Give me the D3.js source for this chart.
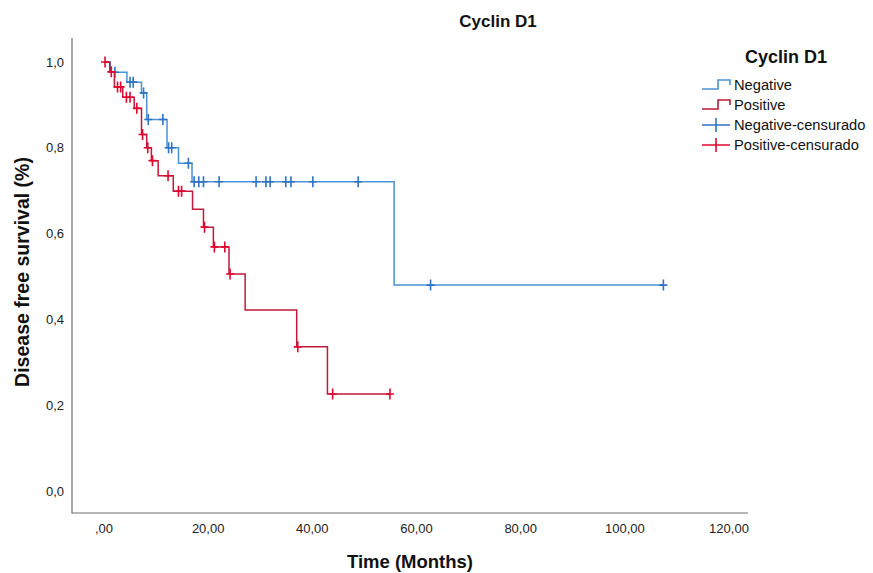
<!DOCTYPE html>
<html>
<head>
<meta charset="utf-8">
<script src="https://cdn.jsdelivr.net/npm/d3@7"></script>
<style>
  body { margin: 0; background: #fff; }
  svg { font-family: Arial, "Liberation Sans", sans-serif; }
</style>
</head>
<body>
<svg id="chart" width="873" height="573"></svg>
<script>
// Kaplan-Meier steps: [months, survival]
const negativeSteps = [[0, 1.0], [1.2, 0.976], [4.4, 0.953], [7.2, 0.928], [8.2, 0.866], [12.1, 0.800],
  [14.3, 0.764], [16.9, 0.721], [55.7, 0.480]];
const negativeEnd = 107.4;
const negativeCensored = [2.1, 5.0, 5.6, 7.6, 8.5, 11.3, 12.4, 13.0, 16.2, 17.3, 18.2, 19.1, 22.1,
  29.2, 31.1, 31.9, 34.9, 35.9, 40.1, 48.8, 62.7, 107.4];

const positiveSteps = [[0, 1.0], [1.1, 0.977], [2.0, 0.942], [3.6, 0.918], [5.8, 0.892], [7.2, 0.831],
  [8.2, 0.800], [9.1, 0.770], [10.4, 0.735], [13.3, 0.699], [17.0, 0.657], [19.1, 0.615],
  [21.0, 0.569], [24.0, 0.506], [27.1, 0.422], [37.0, 0.336], [42.9, 0.226]];
const positiveEnd = 54.9;
const positiveCensored = [0.2, 1.4, 2.6, 3.2, 4.3, 5.0, 6.3, 7.4, 8.4, 9.3, 12.3, 14.3, 14.9,
  19.3, 21.2, 23.2, 24.2, 37.2, 43.9, 54.9];

const xTicks = [0, 20, 40, 60, 80, 100, 120];
const xTickLabels = [',00', '20,00', '40,00', '60,00', '80,00', '100,00', '120,00'];
const yTicks = [0, 0.2, 0.4, 0.6, 0.8, 1.0];
const yTickLabels = ['0,0', '0,2', '0,4', '0,6', '0,8', '1,0'];
const legendLabels = ['Negative', 'Positive', 'Negative-censurado', 'Positive-censurado'];

const svg = d3.select('#chart');

const x = d3.scaleLinear().domain([0, 120]).range([104, 729]);
const y = d3.scaleLinear().domain([0, 1]).range([491, 62]);

const frameLeft = 72;
const frameRight = 748;
const frameTop = 38;
const frameBottom = 513;

// frame: left + bottom only
svg.append('path')
  .attr('d', `M${frameLeft},${frameTop}V${frameBottom}H${frameRight}`)
  .attr('fill', 'none')
  .attr('stroke', '#6e6e6e')
  .attr('stroke-width', 1.2);

svg.append('g')
  .selectAll('text')
  .data(xTicks)
  .enter()
  .append('text')
  .attr('x', (d) => x(d))
  .attr('y', 533)
  .attr('text-anchor', 'middle')
  .attr('font-size', 13)
  .attr('fill', '#222')
  .text((d, i) => xTickLabels[i]);

svg.append('g')
  .selectAll('text')
  .data(yTicks)
  .enter()
  .append('text')
  .attr('x', 64)
  .attr('y', (d) => y(d) + 4.5)
  .attr('text-anchor', 'end')
  .attr('font-size', 13)
  .attr('fill', '#222')
  .text((d, i) => yTickLabels[i]);

svg.append('text')
  .attr('x', 410)
  .attr('y', 568)
  .attr('text-anchor', 'middle')
  .attr('font-size', 18.5)
  .attr('font-weight', 'bold')
  .attr('fill', '#111')
  .text('Time (Months)');

svg.append('text')
  .attr('transform', 'translate(29,272) rotate(-90)')
  .attr('text-anchor', 'middle')
  .attr('font-size', 19.5)
  .attr('font-weight', 'bold')
  .attr('fill', '#111')
  .text('Disease free survival (%)');

svg.append('text')
  .attr('x', 498)
  .attr('y', 27)
  .attr('text-anchor', 'middle')
  .attr('font-size', 17)
  .attr('font-weight', 'bold')
  .attr('fill', '#111')
  .text('Cyclin D1');

const line = d3.line()
  .x((d) => x(d[0]))
  .y((d) => y(d[1]))
  .curve(d3.curveStepAfter);

const survivalAt = (steps, t) => {
  let s = steps[0][1];
  steps.forEach((p) => { if (p[0] <= t) s = p[1]; });
  return s;
};

const groups = [
  { steps: negativeSteps, end: negativeEnd, censored: negativeCensored, lineColor: '#4a93d8', markColor: '#2f73c2' },
  { steps: positiveSteps, end: positiveEnd, censored: positiveCensored, lineColor: '#bf1a3a', markColor: '#e3062e' }
];

groups.forEach((g) => {
  const pts = g.steps.concat([[g.end, g.steps[g.steps.length - 1][1]]]);
  svg.append('path')
    .datum(pts)
    .attr('d', line)
    .attr('fill', 'none')
    .attr('stroke', g.lineColor)
    .attr('stroke-width', 1.5);

  svg.append('g')
    .selectAll('path')
    .data(g.censored)
    .enter()
    .append('path')
    .attr('d', (t) => {
      const cx = x(t);
      const cy = y(survivalAt(g.steps, t));
      return `M${cx},${cy - 5.5}V${cy + 5.5}M${cx - 4},${cy}H${cx + 4}`;
    })
    .attr('fill', 'none')
    .attr('stroke', g.markColor)
    .attr('stroke-width', 1.6);
});

// legend
const legend = svg.append('g');
legend.append('text')
  .attr('x', 786)
  .attr('y', 63)
  .attr('text-anchor', 'middle')
  .attr('font-size', 18)
  .attr('font-weight', 'bold')
  .attr('fill', '#111')
  .text('Cyclin D1');

const legendRowY = [85, 105, 125, 145];
const legendColors = ['#4a93d8', '#bf1a3a', '#2f73c2', '#e3062e'];

legendLabels.forEach((label, i) => {
  const ly = legendRowY[i];
  const sample = i < 2
    ? `M702,${ly + 4}H718V${ly - 5}H730V${ly}`
    : `M702,${ly}H730M716,${ly - 7}V${ly + 7}`;
  legend.append('path')
    .attr('d', sample)
    .attr('fill', 'none')
    .attr('stroke', legendColors[i])
    .attr('stroke-width', 1.6);
  legend.append('text')
    .attr('x', 734)
    .attr('y', ly + 5)
    .attr('font-size', 14.7)
    .attr('fill', '#111')
    .text(label);
});
</script>
</body>
</html>
